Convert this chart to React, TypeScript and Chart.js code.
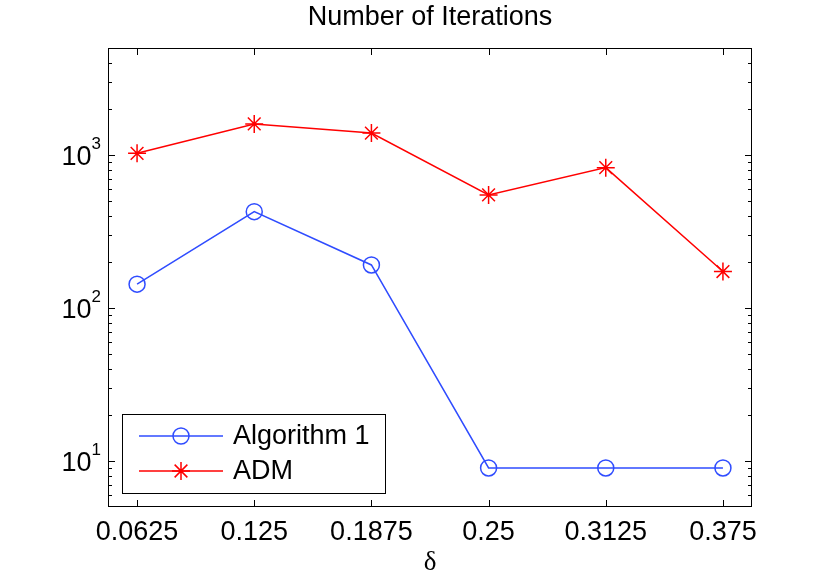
import React, { useEffect, useRef } from 'react';
import { Chart, registerables } from 'chart.js';
import { drawPoint } from 'chart.js/helpers';

Chart.register(...registerables);

// values
const deltas = [0.0625, 0.125, 0.1875, 0.25, 0.3125, 0.375];
const xTickLabels = ['0.0625', '0.125', '0.1875', '0.25', '0.3125', '0.375'];
const algorithm1Iters = [143, 426, 191, 9, 9, 9];
const admIters = [1025, 1595, 1390, 548, 826, 173];

const yMajorTicks = [10, 100, 1000];
const yTickBase = '10';
const yTickExponents = ['1', '2', '3'];
const yMinorTicks = [6, 7, 8, 9, 20, 30, 40, 50, 60, 70, 80, 90, 200, 300, 400, 500, 600, 700, 800, 900, 2000, 3000, 4000];

const SANS = "'Liberation Sans', Arial, Helvetica, sans-serif";
const SERIF = "'Liberation Serif', 'Times New Roman', serif";
const BLUE = '#2f4cff';
const RED = '#ff0000';

// MATLAB-like box with inward ticks and 10^n labels
const matlabAxes = {
  id: 'matlabAxes',
  afterDraw(chart: Chart) {
    const { ctx, chartArea } = chart;
    const { left, right, top, bottom } = chartArea;
    const x = chart.scales.x;
    const y = chart.scales.y;
    ctx.save();
    ctx.strokeStyle = '#000';
    ctx.lineWidth = 1;
    ctx.strokeRect(left + 0.5, top + 0.5, right - left - 1, bottom - top - 1);

    ctx.beginPath();
    deltas.forEach(v => {
      const px = Math.round(x.getPixelForValue(v)) + 0.5;
      ctx.moveTo(px, bottom);
      ctx.lineTo(px, bottom - 7);
      ctx.moveTo(px, top);
      ctx.lineTo(px, top + 7);
    });
    yMajorTicks.forEach(v => {
      const py = Math.round(y.getPixelForValue(v)) + 0.5;
      ctx.moveTo(left, py);
      ctx.lineTo(left + 7, py);
      ctx.moveTo(right, py);
      ctx.lineTo(right - 7, py);
    });
    yMinorTicks.forEach(v => {
      const py = Math.round(y.getPixelForValue(v)) + 0.5;
      ctx.moveTo(left, py);
      ctx.lineTo(left + 4, py);
      ctx.moveTo(right, py);
      ctx.lineTo(right - 4, py);
    });
    ctx.stroke();

    ctx.fillStyle = '#000';
    ctx.textAlign = 'right';
    ctx.textBaseline = 'alphabetic';
    yMajorTicks.forEach((v, i) => {
      const py = y.getPixelForValue(v);
      ctx.font = `17px ${SANS}`;
      const expW = ctx.measureText(yTickExponents[i]).width;
      ctx.fillText(yTickExponents[i], left - 7, py - 6);
      ctx.font = `27px ${SANS}`;
      ctx.fillText(yTickBase, left - 7 - expW, py + 10);
    });
    ctx.restore();
  },
};

const insetLegend = {
  id: 'insetLegend',
  afterDraw(chart: Chart) {
    const { ctx, chartArea } = chart;
    const boxLeft = chartArea.left + 14;
    const boxTop = chartArea.bottom - 93;
    const boxW = 263;
    const boxH = 79;
    ctx.save();
    ctx.fillStyle = '#fff';
    ctx.fillRect(boxLeft, boxTop, boxW, boxH);
    ctx.strokeStyle = '#000';
    ctx.lineWidth = 1;
    ctx.strokeRect(boxLeft + 0.5, boxTop + 0.5, boxW, boxH);

    chart.data.datasets.forEach((ds: any, i: number) => {
      const rowY = boxTop + 22 + i * 35;
      ctx.strokeStyle = ds.borderColor;
      ctx.lineWidth = ds.borderWidth;
      ctx.beginPath();
      ctx.moveTo(boxLeft + 17, rowY);
      ctx.lineTo(boxLeft + 101, rowY);
      ctx.stroke();
      ctx.fillStyle = 'rgba(0,0,0,0)';
      drawPoint(ctx, {
        pointStyle: ds.pointStyle,
        rotation: 0,
        radius: ds.pointRadius,
        borderWidth: ds.pointBorderWidth,
      }, boxLeft + 59, rowY);
      ctx.fillStyle = '#000';
      ctx.font = `27px ${SANS}`;
      ctx.textAlign = 'left';
      ctx.textBaseline = 'middle';
      ctx.fillText(ds.label, boxLeft + 111, rowY + 1);
    });
    ctx.restore();
  },
};

const App: React.FC = () => {
  const canvasRef = useRef<HTMLCanvasElement>(null);

  useEffect(() => {
    const ctx = canvasRef.current?.getContext('2d');
    if (!ctx) return;
    const chart = new Chart(ctx, {
      type: 'line',
      data: {
        datasets: [
          {
            label: 'Algorithm 1',
            data: deltas.map((d, i) => ({ x: d, y: algorithm1Iters[i] })),
            borderColor: BLUE,
            backgroundColor: 'rgba(0,0,0,0)',
            borderWidth: 1.5,
            pointStyle: 'circle',
            pointRadius: 8,
            pointBorderWidth: 1.5,
            pointBackgroundColor: 'rgba(0,0,0,0)',
            tension: 0,
          },
          {
            label: 'ADM',
            data: deltas.map((d, i) => ({ x: d, y: admIters[i] })),
            borderColor: RED,
            backgroundColor: 'rgba(0,0,0,0)',
            borderWidth: 1.5,
            pointStyle: 'star',
            pointRadius: 9,
            pointBorderWidth: 1.5,
            pointBackgroundColor: 'rgba(0,0,0,0)',
            tension: 0,
          },
        ],
      },
      options: {
        animation: false,
        responsive: true,
        maintainAspectRatio: false,
        layout: { padding: { left: 0, right: 78, top: 0, bottom: 0 } },
        plugins: {
          legend: { display: false },
          tooltip: { enabled: false },
          title: {
            display: true,
            text: 'Number of Iterations',
            fullSize: false,
            color: '#000',
            font: { family: SANS, size: 27, weight: 'normal', lineHeight: 1.2 },
            padding: { top: 1, bottom: 14.6 },
          },
        },
        scales: {
          x: {
            type: 'linear',
            min: 0.047,
            max: 0.3905,
            afterBuildTicks: (scale: any) => {
              scale.ticks = deltas.map(v => ({ value: v }));
            },
            afterFit: (scale: any) => {
              scale.height = 77;
            },
            ticks: {
              callback: (_v: any, i: number) => xTickLabels[i],
              color: '#000',
              font: { family: SANS, size: 27 },
              padding: 9,
              maxRotation: 0,
              autoSkip: false,
            },
            grid: { display: false, drawTicks: false },
            border: { display: false },
            title: {
              display: true,
              text: 'δ',
              color: '#000',
              font: { family: SERIF, size: 27, lineHeight: 1.2 },
              padding: { top: 0, bottom: 5 },
            },
          },
          y: {
            type: 'logarithmic',
            min: 5,
            max: 5000,
            afterFit: (scale: any) => {
              scale.width = 108;
            },
            ticks: { display: false },
            grid: { display: false, drawTicks: false },
            border: { display: false },
          },
        },
      },
      plugins: [matlabAxes, insetLegend],
    });
    return () => chart.destroy();
  }, []);

  return (
    <div style={{ position: 'fixed', left: 0, top: 0, width: 830, height: 584, background: '#fff' }}>
      <canvas ref={canvasRef} />
    </div>
  );
};

export default App;
